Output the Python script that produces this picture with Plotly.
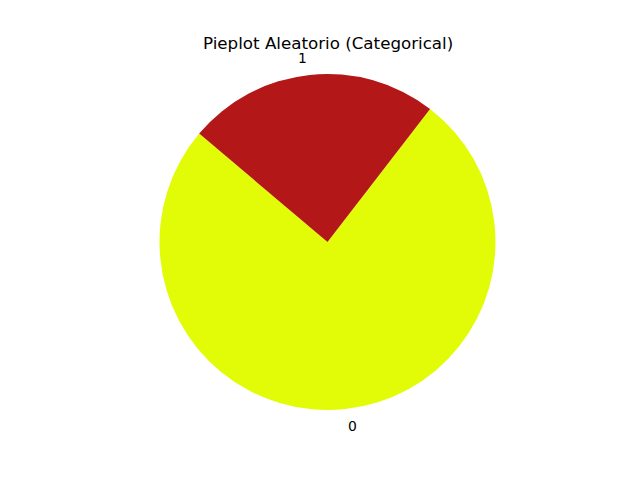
import math
import plotly.graph_objects as go

labels = ["0", "1"]
values = [53, 17]
colors = ["#e2fc08", "#b31717"]
title_text = "Pieplot Aleatorio (Categorical)"
start_angle = 139.8  # degrees, math convention, counterclockwise

W, H = 640, 480
OFF = 8  # browser body margin
cx, cy, R = 327.5 - OFF, 242.0 - OFF, 168.0

total = sum(values)
end_first = start_angle + 360 * values[0] / total

fig = go.Figure(go.Pie(
    labels=labels, values=values, sort=False, direction="counterclockwise",
    rotation=-(end_first - 90), textinfo="none", hoverinfo="label+percent",
    marker=dict(colors=colors, line=dict(width=0)),
    domain=dict(x=[(cx - R) / W, (cx + R) / W], y=[(H - cy - R) / H, (H - cy + R) / H]),
    showlegend=False,
))

ang = start_angle
annotations = []
for lab, v in zip(labels, values):
    span = 360 * v / total
    mid = math.radians(ang + span / 2)
    ang += span
    dx = 1.1 * R * math.cos(mid)
    dy = 1.1 * R * math.sin(mid)
    annotations.append(dict(
        x=(cx + dx) / W, y=(H - cy + dy) / H, xref="paper", yref="paper",
        text=lab, showarrow=False, xanchor="left" if dx >= 0 else "right",
        yanchor="middle", borderpad=0,
        font=dict(family="DejaVu Sans", size=13.9, color="black"),
    ))

annotations.append(dict(
    x=cx / W, y=1 - (42.5 - OFF) / H, xref="paper", yref="paper", text=title_text,
    showarrow=False, xanchor="center", yanchor="middle", borderpad=0,
    font=dict(family="DejaVu Sans", size=16.7, color="black"),
))

fig.update_layout(
    width=W, height=H, margin=dict(l=0, r=0, t=0, b=0),
    paper_bgcolor="white", plot_bgcolor="white", annotations=annotations,
)
fig.write_html("out.html")
